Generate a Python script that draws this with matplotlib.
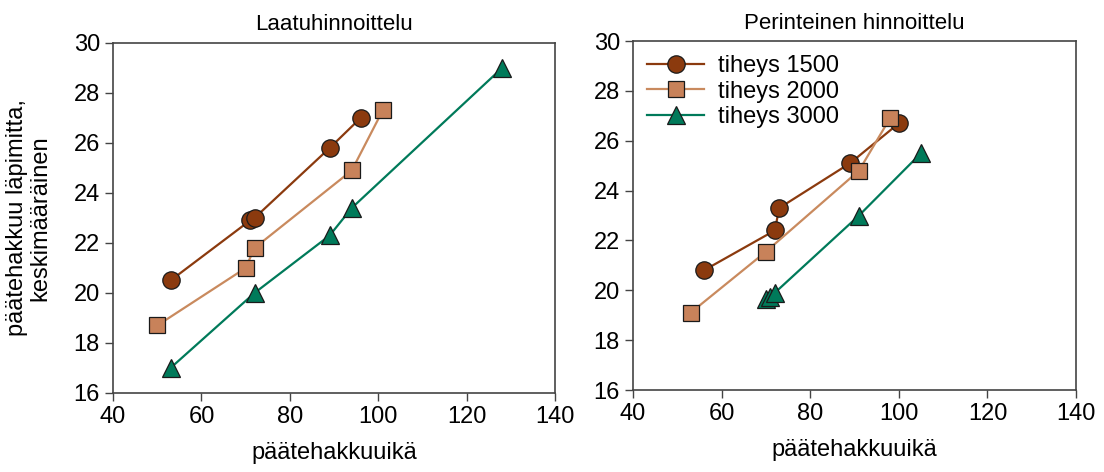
import matplotlib.pyplot as plt

plt.rcParams.update({
    "font.family": ["Liberation Sans", "DejaVu Sans"],
    "font.size": 17,
})

C_1500 = "#8b3a0e"
C_2000_LINE = "#c98a5e"
C_2000_FILL = "#c8825a"
C_3000 = "#007a5a"

# Laatuhinnoittelu
q_age_1500 = [53, 71, 72, 89, 96]
q_dia_1500 = [20.5, 22.9, 23.0, 25.8, 27.0]
q_age_2000 = [50, 70, 72, 94, 101]
q_dia_2000 = [18.7, 21.0, 21.8, 24.9, 27.3]
q_age_3000 = [53, 72, 89, 94, 128]
q_dia_3000 = [17.0, 20.0, 22.3, 23.4, 29.0]

# Perinteinen hinnoittelu
t_age_1500 = [56, 72, 73, 89, 100]
t_dia_1500 = [20.8, 22.4, 23.3, 25.1, 26.7]
t_age_2000 = [53, 70, 91, 98]
t_dia_2000 = [19.1, 21.55, 24.8, 26.9]
t_age_3000 = [70, 71, 72, 91, 105]
t_dia_3000 = [19.65, 19.75, 19.9, 23.0, 25.5]

series_labels = ["tiheys 1500", "tiheys 2000", "tiheys 3000"]


def draw(ax, data, title):
    styles = [
        dict(color=C_1500, marker="o", markerfacecolor=C_1500, markersize=12.5),
        dict(color=C_2000_LINE, marker="s", markerfacecolor=C_2000_FILL, markersize=11.5),
        dict(color=C_3000, marker="^", markerfacecolor=C_3000, markersize=13),
    ]
    for (x, y), st, lab in zip(data, styles, series_labels):
        ax.plot(x, y, linewidth=1.6, markeredgecolor="#1a1a1a", markeredgewidth=0.9,
                label=lab, **st)
    ax.set_xlim(40, 140)
    ax.set_ylim(16, 30)
    ax.set_xticks(range(40, 141, 20))
    ax.set_yticks(range(16, 31, 2))
    ax.set_xlabel("päätehakkuuikä", fontsize=17, labelpad=10)
    ax.set_title(title, fontsize=16, pad=9)
    for s in ax.spines.values():
        s.set_color("#444444")
        s.set_linewidth(1.2)
    ax.tick_params(direction="out", length=6, width=1.0, color="#444444", labelsize=17)


fig = plt.figure(figsize=(11.04, 4.72), dpi=100)
ax1 = fig.add_axes([0.1024, 0.1674, 0.4004, 0.7415])
ax2 = fig.add_axes([0.5734, 0.1737, 0.4013, 0.7394])

draw(ax1, [(q_age_1500, q_dia_1500), (q_age_2000, q_dia_2000), (q_age_3000, q_dia_3000)],
     "Laatuhinnoittelu")
draw(ax2, [(t_age_1500, t_dia_1500), (t_age_2000, t_dia_2000), (t_age_3000, t_dia_3000)],
     "Perinteinen hinnoittelu")

ax1.set_ylabel("päätehakkuu läpimitta,\nkeskimääräinen", fontsize=17, labelpad=16,
               linespacing=1.1)
ax2.legend(loc="upper left", frameon=False, fontsize=17, handlelength=2.4,
           borderaxespad=0.2, labelspacing=0.15, handletextpad=0.6)

fig.savefig("out.png", dpi=100)
